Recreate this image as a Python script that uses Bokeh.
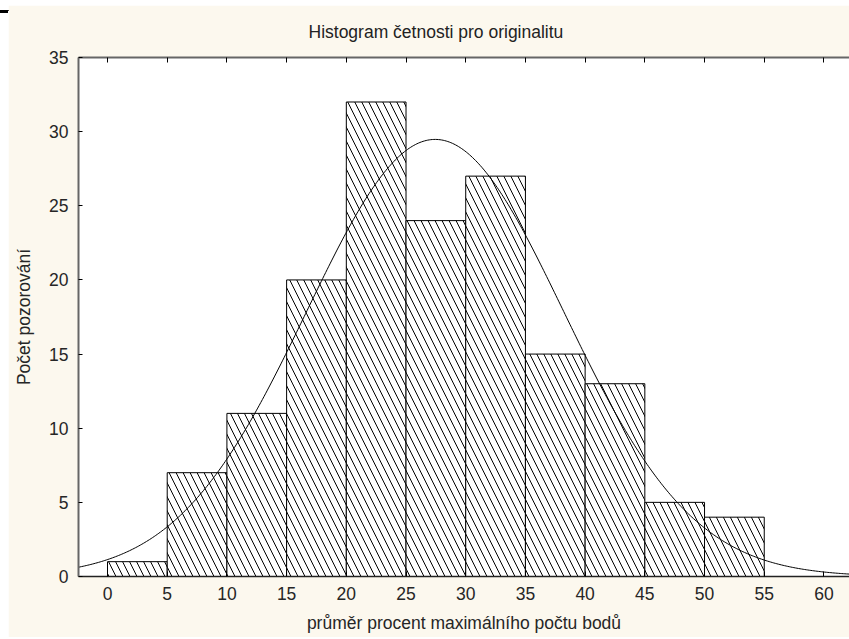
import numpy as np
from bokeh.plotting import figure
from bokeh.models import Range1d, LinearAxis, FixedTicker, Div, Spacer, ColumnDataSource
from bokeh.layouts import column, row
from bokeh.embed import file_html
from bokeh.resources import INLINE

# ---- data ----
bin_left = [0, 5, 10, 15, 20, 25, 30, 35, 40, 45, 50]
bin_right = [5, 10, 15, 20, 25, 30, 35, 40, 45, 50, 55]
counts = [1, 7, 11, 20, 32, 24, 27, 15, 13, 5, 4]
x_ticks = [0, 5, 10, 15, 20, 25, 30, 35, 40, 45, 50, 55, 60]
y_ticks = [0, 5, 10, 15, 20, 25, 30, 35]
fit_mean = 27.44   # fitted normal curve parameters
fit_sd = 10.76
bin_width = 5

title_text = "Histogram četnosti pro originalitu"
x_label = "průměr procent maximálního počtu bodů"
y_label = "Počet pozorování"

CREAM = "#FCF8EE"
FONT = "Liberation Sans"
FS = "17.5px"
TXT = "#262626"

x_start, x_end = -2.43, 62.14
p = figure(width=841, height=632,
           x_range=Range1d(x_start, x_end), y_range=Range1d(0, 35),
           output_backend="svg", toolbar_location=None,
           min_border_left=70, min_border_right=0,
           min_border_top=52, min_border_bottom=61,
           background_fill_color="white", border_fill_color=CREAM,
           outline_line_color=None)
p.xgrid.grid_line_color = None
p.ygrid.grid_line_color = None

src = ColumnDataSource(dict(left=bin_left, right=bin_right, top=counts,
                            bottom=[0] * len(counts)))
p.quad(left="left", right="right", top="top", bottom="bottom", source=src,
       fill_color="white", line_color="black", line_width=1,
       hatch_pattern="\\", hatch_color="black", hatch_scale=14, hatch_weight=1)

n_obs = sum(counts)
xs = np.linspace(x_start, x_end, 500)
ys = n_obs * bin_width / (fit_sd * np.sqrt(2 * np.pi)) * np.exp(-0.5 * ((xs - fit_mean) / fit_sd) ** 2)
p.line(xs, ys, line_color="black", line_width=1)

# bottom axis
xa = p.xaxis[0]
xa.ticker = FixedTicker(ticks=x_ticks)
xa.axis_line_color = "#222222"
xa.axis_line_width = 1.5
xa.major_tick_in = 5
xa.major_tick_out = 0
xa.major_tick_line_color = "black"
xa.minor_tick_line_color = None
xa.major_label_text_font = FONT
xa.major_label_text_font_size = FS
xa.major_label_text_color = TXT
xa.major_label_standoff = 10
xa.axis_label = x_label
xa.axis_label_text_font = FONT
xa.axis_label_text_font_size = FS
xa.axis_label_text_font_style = "normal"
xa.axis_label_text_color = TXT
xa.axis_label_standoff = 10

# left axis
ya = p.yaxis[0]
ya.ticker = FixedTicker(ticks=y_ticks)
ya.axis_line_color = "#666666"
ya.axis_line_width = 2
ya.major_tick_in = 4
ya.major_tick_out = 0
ya.major_tick_line_color = "black"
ya.minor_tick_line_color = None
ya.major_label_text_font = FONT
ya.major_label_text_font_size = FS
ya.major_label_text_color = TXT
ya.major_label_standoff = 10
ya.axis_label = y_label
ya.axis_label_text_font = FONT
ya.axis_label_text_font_size = FS
ya.axis_label_text_font_style = "normal"
ya.axis_label_text_color = TXT
ya.axis_label_standoff = 12

# top axis: ticks only
top = LinearAxis(ticker=FixedTicker(ticks=x_ticks))
top.axis_line_color = "#666666"
top.axis_line_width = 2
top.major_tick_in = 5
top.major_tick_out = 0
top.major_tick_line_color = "black"
top.minor_tick_line_color = None
top.major_label_text_color = None
top.major_label_text_font_size = "0px"
top.major_label_standoff = 0
p.add_layout(top, "above")

p.title.text = title_text
p.title.align = "left"
p.title.vertical_align = "top"
p.title.offset = 230
p.title.standoff = 28
p.title.text_font = FONT
p.title.text_font_size = FS
p.title.text_font_style = "normal"
p.title.text_color = "#222222"

strip_html = (
    '<div style="position:relative;width:849px;height:5px;background:white;">'
    '<div style="position:absolute;left:0;top:3px;width:849px;height:1px;background:#000"></div>'
    '<div style="position:absolute;left:0;top:3px;width:8px;height:3px;background:#000"></div>'
    + "".join('<div style="position:absolute;left:%dpx;top:0;width:1px;height:4px;background:#000"></div>' % xp
              for xp in [27, 289, 417, 547, 676, 810])
    + '</div>'
)
strip = Div(text=strip_html, width=849, height=5, margin=0)
layout = column(strip, row(Spacer(width=8, height=632, margin=0), p, spacing=0), spacing=0)

open("out.html", "w").write(file_html(layout, INLINE))
